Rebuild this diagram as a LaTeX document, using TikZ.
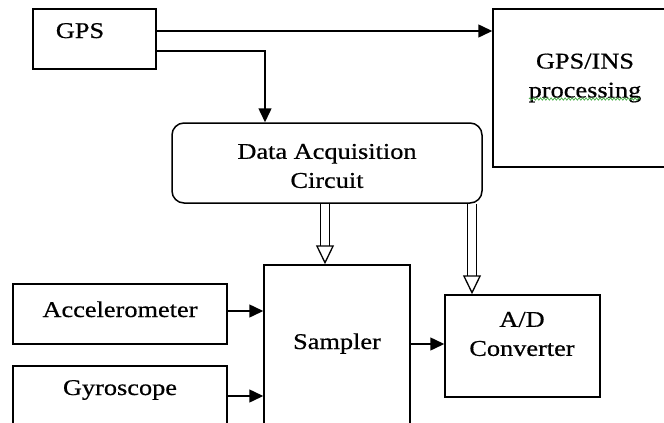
\documentclass[tikz,border=0pt]{standalone}
\usepackage{fontspec}
\setmainfont{Liberation Serif}[FakeStretch=1.17,FakeBold=0.6]
\usetikzlibrary{arrows.meta,decorations.pathmorphing}
\definecolor{spellGreen}{RGB}{70,175,70}

\begin{document}
\begin{tikzpicture}[x=1pt,y=-1pt,
  box/.style={draw,line width=1.5pt,inner sep=0pt},
  txt/.style={font=\fontsize{22.5}{29}\selectfont,inner sep=0pt,align=center},
  feed/.style={line width=1.5pt,-{Triangle[length=14pt,width=13pt]}},
  bus/.style={double,double distance=7.5pt,line width=1.3pt,-{Triangle[open,length=19pt,width=18pt]}}]
  \useasboundingbox (0,0) rectangle (664,423);
  \clip (0,0) rectangle (664,423);
  \fill[white] (0,0) rectangle (664,423);
  \node[box,minimum width=123pt,minimum height=60pt] (gps) at (94.5,39) {};
  \node[box,minimum width=185pt,minimum height=158pt] (gpsins) at (585.5,88) {};
  \node[box,rounded corners=12pt,minimum width=310pt,minimum height=80pt] (daq) at (327,163) {};
  \node[box,minimum width=214pt,minimum height=60pt] (acc) at (120,314) {};
  \node[box,minimum width=214pt,minimum height=60pt] (gyro) at (120,396) {};
  \node[box,minimum width=146pt,minimum height=195pt] (sampler) at (337,362.5) {};
  \node[box,minimum width=155pt,minimum height=102pt] (adc) at (522.5,346) {};
  \node[txt,anchor=base] (gpslbl) at (80,38) {GPS};
  \node[txt] (gpsinslbl) at (585,78) {GPS/INS\\processing};
  \node[txt] (daqlbl) at (327,166) {Data Acquisition\\Circuit};
  \node[txt,anchor=base] (acclbl) at (120,317) {Accelerometer};
  \node[txt,anchor=base] (gyrolbl) at (120,395) {Gyroscope};
  \node[txt,anchor=base] (samplerlbl) at (337,349) {Sampler};
  \node[txt] (adclbl) at (522,334) {A/D\\Converter};
  \draw[spellGreen,line width=0.7pt,decorate,decoration={snake,amplitude=1.2pt,segment length=3.5pt}] (529,99) -- (640,99);
  \draw[feed] ([yshift=8pt]gps.east) -- ([yshift=8pt]gps.east -| gpsins.west);
  \draw[feed] ([yshift=-12pt]gps.east) -| ([xshift=-62pt]daq.north);
  \draw[feed] ([yshift=3pt]acc.east) -- ([yshift=3pt]acc.east -| sampler.west);
  \draw[feed] (gyro.east) -- (gyro.east -| sampler.west);
  \draw[feed] ([yshift=2pt]adc.west -| sampler.east) -- ([yshift=2pt]adc.west);
  \draw[bus] ([xshift=-2pt]daq.south) -- ([xshift=-2pt]daq.south |- sampler.north);
  \draw[bus] ([xshift=145pt]daq.south) -- ([xshift=145pt]daq.south |- adc.north);
\end{tikzpicture}
\end{document}
